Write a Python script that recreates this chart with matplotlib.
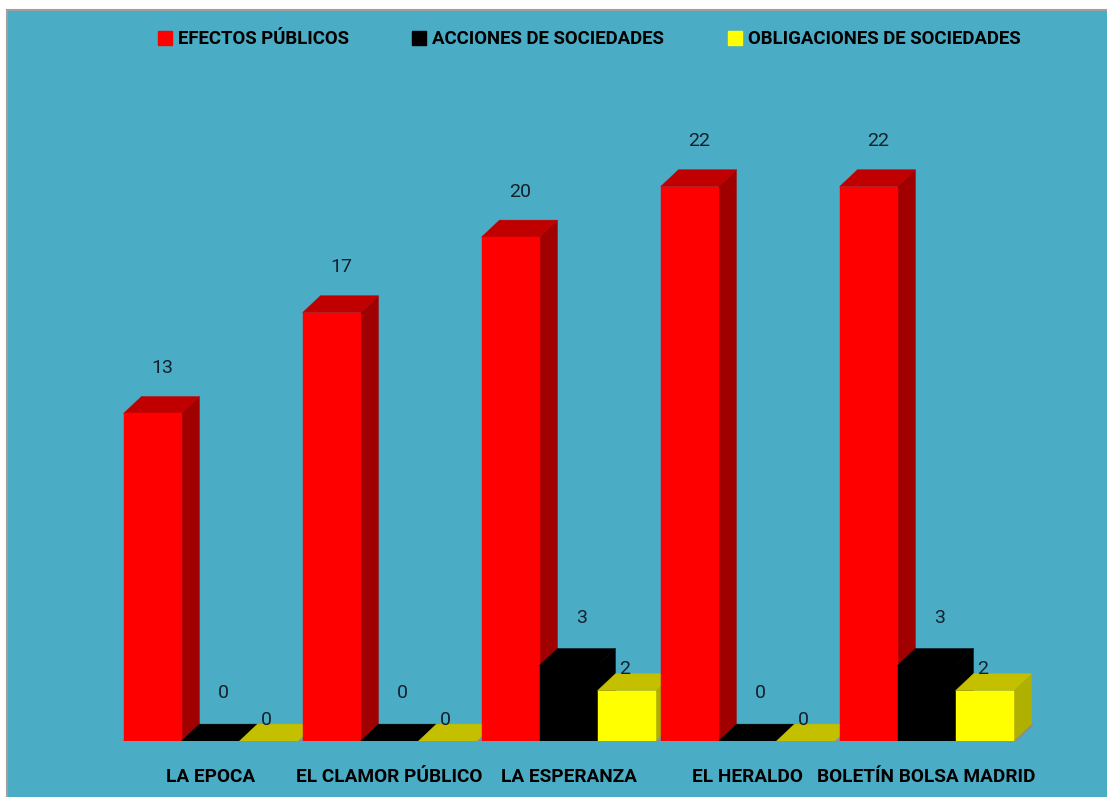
import matplotlib.pyplot as plt
from matplotlib.patches import Polygon, Rectangle
from matplotlib.lines import Line2D

# Datos del gráfico
periodicos = ["LA EPOCA", "EL CLAMOR PÚBLICO", "LA ESPERANZA", "EL HERALDO", "BOLETÍN BOLSA MADRID"]
series = ["EFECTOS PÚBLICOS", "ACCIONES DE SOCIEDADES", "OBLIGACIONES DE SOCIEDADES"]
efectos_publicos = [13, 17, 20, 22, 22]
acciones_sociedades = [0, 0, 3, 0, 3]
obligaciones_sociedades = [0, 0, 2, 0, 2]
valores = [efectos_publicos, acciones_sociedades, obligaciones_sociedades]

# Colores: frente, techo, lateral
colores = [
    ("#FF0000", "#C00000", "#A00000"),
    ("#000000", "#000000", "#000000"),
    ("#FFFF00", "#C4C000", "#B0B000"),
]
# desplazamiento de la etiqueta (x, y) por serie
desp_etiqueta = [(0.055, 1.8), (0.07, 1.9), (-0.01, 0.85)]

plt.rcParams["font.family"] = ["Roboto", "DejaVu Sans"]

fig = plt.figure(figsize=(11.07, 7.97), dpi=100)
fig.patch.set_facecolor("white")
# fondo azul del gráfico
fondo = Rectangle((7 / 1107, -0.01), 1.0, (797 - 10) / 797 + 0.01,
                  transform=fig.transFigure, facecolor="#4BACC6",
                  edgecolor="#A0A0A0", linewidth=1.5, zorder=-5)
fig.patches.append(fondo)

ax = fig.add_axes([7 / 1107, (797 - 741) / 797, 1 - 7 / 1107, (741 - 111) / 797])
ax.set_xlim(-1.137, 5.008)
ax.set_ylim(0, 25)
ax.axis("off")
ax.patch.set_alpha(0)

ancho = 0.324
dx, dy = 0.1, 0.67

# suelo (línea gris)
x_ini = -1.5 * ancho - 0.015
x_fin = len(periodicos) - 1 + 1.5 * ancho + 0.01
ax.plot([x_ini, x_fin, x_fin + dx], [0, 0, dy], color="#8C8C8C", lw=1.6, zorder=1,
        solid_capstyle="butt")

z = 2
for i, nombre in enumerate(periodicos):
    for s in range(3):
        h = valores[s][i]
        x0 = i + (s - 1.5) * ancho
        frente, techo, lateral = colores[s]
        cara_lat = [(x0 + ancho, 0), (x0 + ancho + dx, dy), (x0 + ancho + dx, h + dy), (x0 + ancho, h)]
        cara_sup = [(x0, h), (x0 + dx, h + dy), (x0 + ancho + dx, h + dy), (x0 + ancho, h)]
        ax.add_patch(Polygon(cara_lat, closed=True, facecolor=lateral, edgecolor=lateral,
                             lw=0.3, zorder=z))
        ax.add_patch(Polygon(cara_sup, closed=True, facecolor=techo, edgecolor=techo,
                             lw=0.3, zorder=z))
        if h > 0:
            ax.add_patch(Rectangle((x0, 0), ancho, h, facecolor=frente, edgecolor=frente,
                                   lw=0.3, zorder=z))
        z += 1
        ox, oy = desp_etiqueta[s]
        ax.text(x0 + ancho / 2 + ox, h + oy, str(h), ha="center", va="center",
                fontsize=14, color="#14202B", zorder=50)
    ax.text(i, -1.43, nombre, ha="center", va="center", fontsize=13.7,
            fontweight="bold", color="black", clip_on=False)

handles = [Line2D([], [], marker="s", linestyle="none", markersize=9.5,
                  markerfacecolor=c[0], markeredgecolor=c[0]) for c in colores]
fig.legend(handles, series, loc="center", bbox_to_anchor=(0.532, 0.951), ncol=3,
           frameon=False, handlelength=0.8, handletextpad=0.3, columnspacing=3.4,
           prop={"weight": "bold", "size": 13.4})

plt.savefig("out.png", dpi=100)
